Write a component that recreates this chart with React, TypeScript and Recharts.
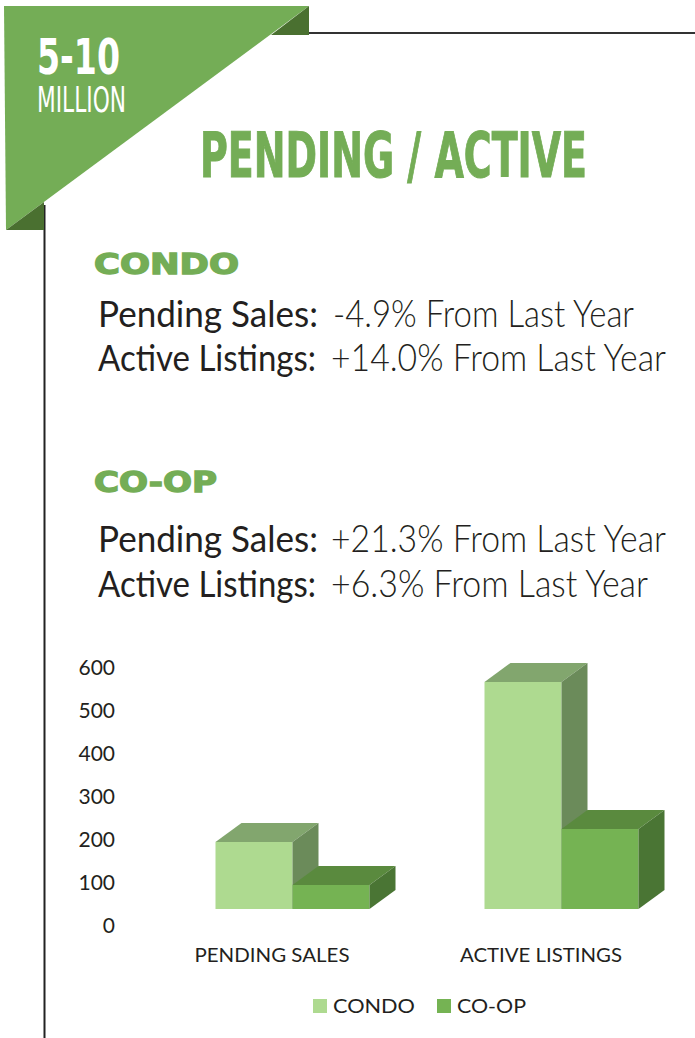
import React from 'react';
import { BarChart, Bar, XAxis, YAxis, Legend } from 'recharts';

// values (3D column chart, 5-10 million segment)
const categories = ['PENDING SALES', 'ACTIVE LISTINGS'];
const condoValues = [156, 528];
const coopValues = [56, 186];
const yTicks = [0, 100, 200, 300, 400, 500, 600];

const data = categories.map((name, i) => ({ name, condo: condoValues[i], coop: coopValues[i] }));

const GREEN = '#74ad56';
const DARK_GREEN = '#4a7030';
const INK = '#231f20';
const DEPTH_X = 26;
const DEPTH_Y = 19;

const condoFaces = { front: '#aeda90', top: '#82a66e', side: '#6b8b5a' };
const coopFaces = { front: '#75b353', top: '#5a8a3e', side: '#4a7534' };

const Box3D = (props: any) => {
  const { x, y, width, height, faces } = props;
  if (height == null || width == null) return null;
  const r = x + width;
  const b = y + height;
  return (
    <g>
      <rect x={x} y={y} width={width} height={height} fill={faces.front} />
      <polygon
        points={`${x},${y} ${x + DEPTH_X},${y - DEPTH_Y} ${r + DEPTH_X},${y - DEPTH_Y} ${r},${y}`}
        fill={faces.top}
      />
      <polygon
        points={`${r},${y} ${r + DEPTH_X},${y - DEPTH_Y} ${r + DEPTH_X},${b - DEPTH_Y} ${r},${b}`}
        fill={faces.side}
      />
    </g>
  );
};

const YTick = (props: any) => {
  const { x, y, payload } = props;
  return (
    <text x={x} y={y + 23.5} textAnchor="end" fill={INK} fontSize={21} fontFamily="Lato, 'DejaVu Sans', sans-serif">
      {payload.value}
    </text>
  );
};

const categoryWidths: Record<string, number> = { 'PENDING SALES': 155, 'ACTIVE LISTINGS': 162 };

const XTick = (props: any) => {
  const { x, y, payload } = props;
  return (
    <text
      x={x - 20}
      y={y + 53}
      textAnchor="middle"
      fill={INK}
      fontSize={20}
      fontFamily="Lato, 'DejaVu Sans', sans-serif"
      textLength={categoryWidths[payload.value]}
      lengthAdjust="spacingAndGlyphs"
    >
      {payload.value}
    </text>
  );
};

const legendOffsets = [0, 124];
const legendTextWidths: Record<string, number> = { CONDO: 82, 'CO-OP': 69 };

const LegendContent = (props: any) => {
  const { payload } = props;
  return (
    <svg width={240} height={20} style={{ display: 'block' }}>
      {(payload || []).map((entry: any, i: number) => (
        <g key={entry.value} transform={`translate(${legendOffsets[i]},0)`}>
          <rect x={0} y={0} width={14} height={14} fill={entry.color} />
          <text
            x={20}
            y={14}
            fill={INK}
            fontSize={20}
            fontFamily="Lato, 'DejaVu Sans', sans-serif"
            textLength={legendTextWidths[entry.value]}
            lengthAdjust="spacingAndGlyphs"
          >
            {entry.value}
          </text>
        </g>
      ))}
    </svg>
  );
};

const Header = () => {
  const condensed = "'Liberation Sans Narrow', 'DejaVu Sans Condensed', 'Liberation Sans', sans-serif";
  const body = "Lato, 'Noto Sans', sans-serif";
  const heading = "'DejaVu Sans', Lato, sans-serif";
  const lines = [
    { y: 327, label: 'Pending Sales:', labelW: 220, value: '-4.9% From Last Year', valueX: 333, valueW: 301 },
    { y: 371, label: 'Active Listings:', labelW: 218, value: '+14.0% From Last Year', valueX: 331, valueW: 335 },
    { y: 552, label: 'Pending Sales:', labelW: 220, value: '+21.3% From Last Year', valueX: 331, valueW: 335 },
    { y: 597, label: 'Active Listings:', labelW: 218, value: '+6.3% From Last Year', valueX: 331, valueW: 317 },
  ];
  return (
    <svg width={695} height={1038} style={{ position: 'absolute', left: 0, top: 0 }}>
      <line x1={309} y1={33} x2={695} y2={33} stroke="#333" strokeWidth={2} />
      <line x1={44.5} y1={205} x2={44.5} y2={1038} stroke="#222" strokeWidth={2} />
      <polygon points="4,6 309,6 6,230" fill={GREEN} />
      <polygon points="309,6 309,35 271,35" fill={DARK_GREEN} />
      <polygon points="6,230 44,230 44,202" fill={DARK_GREEN} />
      <text x={37} y={74} fill="#fff" fontFamily={condensed} fontWeight={700} fontSize={49} textLength={83} lengthAdjust="spacingAndGlyphs">
        5-10
      </text>
      <text x={37} y={112} fill="#fff" fontFamily={condensed} fontSize={36} textLength={89} lengthAdjust="spacingAndGlyphs">
        MILLION
      </text>
      <text
        x={200}
        y={177}
        fill={GREEN}
        stroke={GREEN}
        strokeWidth={1}
        fontFamily={condensed}
        fontWeight={700}
        fontSize={62}
        textLength={387}
        lengthAdjust="spacingAndGlyphs"
      >
        PENDING / ACTIVE
      </text>
      <text x={94} y={274} fill={GREEN} stroke={GREEN} strokeWidth={1.4} fontFamily={heading} fontWeight={700} fontSize={29} textLength={145} lengthAdjust="spacingAndGlyphs">
        CONDO
      </text>
      <text x={94} y={492} fill={GREEN} stroke={GREEN} strokeWidth={1.4} fontFamily={heading} fontWeight={700} fontSize={29} textLength={123} lengthAdjust="spacingAndGlyphs">
        CO-OP
      </text>
      {lines.map((l, i) => (
        <g key={i}>
          <text x={98} y={l.y} fill={INK} fontFamily={body} fontSize={37} textLength={l.labelW} lengthAdjust="spacingAndGlyphs">
            {l.label}
          </text>
          <text x={l.valueX} y={l.y} fill={INK} fontFamily={body} fontWeight={300} fontSize={37} textLength={l.valueW} lengthAdjust="spacingAndGlyphs">
            {l.value}
          </text>
        </g>
      ))}
    </svg>
  );
};

const App = () => {
  return (
    <div style={{ position: 'absolute', left: 0, top: 0, width: 695, height: 1038, overflow: 'hidden', background: '#fff' }}>
      <Header />
      <div style={{ position: 'absolute', left: 0, top: 600 }}>
        <BarChart
          width={700}
          height={438}
          data={data}
          margin={{ top: 51, right: 4.5, bottom: 99, left: 97.5 }}
          barGap={0}
          barSize={77}
        >
          <XAxis dataKey="name" axisLine={false} tickLine={false} tickSize={0} tickMargin={0} height={30} tick={<XTick />} interval={0} />
          <YAxis
            domain={[0, 600]}
            ticks={yTicks}
            axisLine={false}
            tickLine={false}
            tickSize={0}
            tickMargin={42.5}
            width={60}
            tick={<YTick />}
            interval={0}
          />
          <Legend
            layout="horizontal"
            verticalAlign="middle"
            align="center"
            itemSorter="dataKey"
            wrapperStyle={{ top: 399, left: 313, width: 240 }}
            content={<LegendContent />}
          />
          <Bar dataKey="condo" name="CONDO" fill={condoFaces.front} isAnimationActive={false} shape={(p: any) => <Box3D {...p} faces={condoFaces} />} />
          <Bar dataKey="coop" name="CO-OP" fill={coopFaces.front} isAnimationActive={false} shape={(p: any) => <Box3D {...p} faces={coopFaces} />} />
        </BarChart>
      </div>
    </div>
  );
};

export default App;
